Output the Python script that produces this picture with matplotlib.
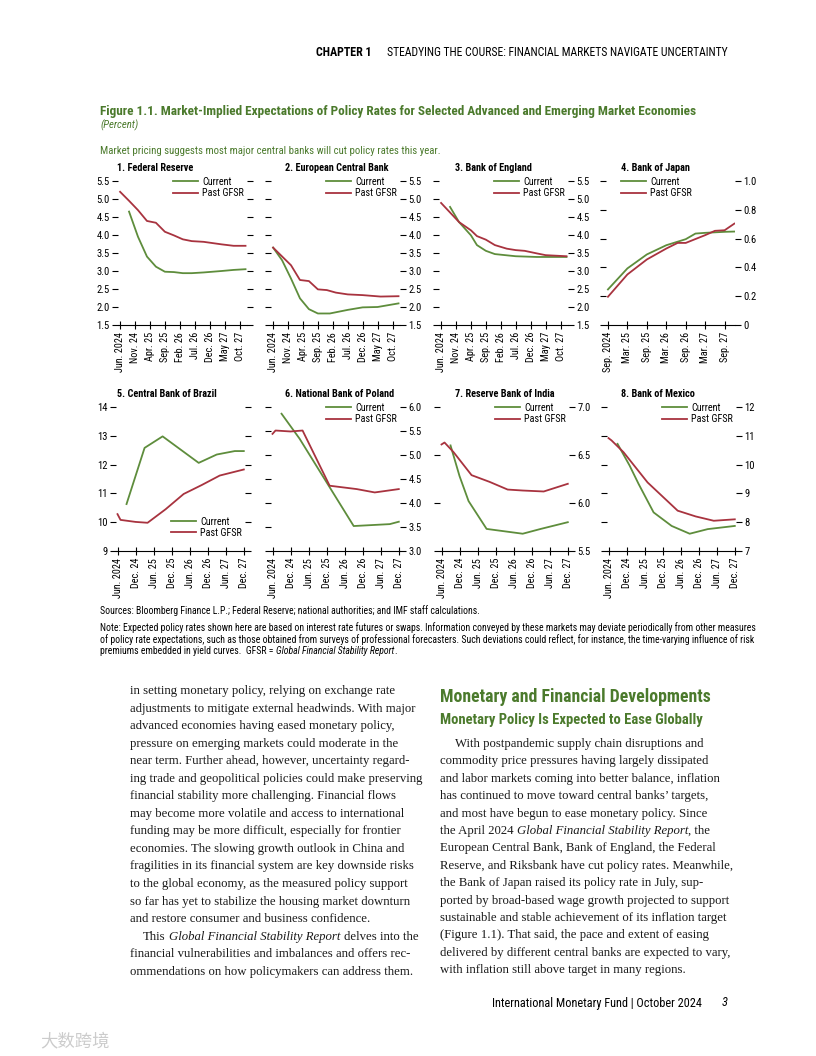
import matplotlib
matplotlib.use('Agg')
import matplotlib.pyplot as plt
from matplotlib import font_manager

W, H = 816, 1056
GREEN = '#4b7a2c'
CUR = '#5e8d3c'
PAST = '#a8333f'
SERIF = ['Liberation Serif', 'DejaVu Serif']

# pick a narrow sans if one is installed
fonts = [(f.name, f.stretch) for f in font_manager.fontManager.ttflist]
SANS, STRETCH = 'Liberation Sans', 'normal'
for name, st in [('Liberation Sans Narrow', None), ('Roboto Condensed', None), ('Open Sans Condensed', None),
                 ('DejaVu Sans', 'condensed'), ('Open Sans', 'condensed'), ('Roboto', 'condensed')]:
    if any(n == name and (st is None or s == st) for n, s in fonts):
        SANS, STRETCH = name, (st or 'normal')
        break
plt.rcParams['font.family'] = [SANS, 'DejaVu Sans']
plt.rcParams['font.stretch'] = STRETCH

# ---- data (months after first tick) ----
ticks_a = ['Jun. 2024', 'Nov. 24', 'Apr. 25', 'Sep. 25', 'Feb. 26', 'Jul. 26', 'Dec. 26', 'May 27', 'Oct. 27']
ticks_jp = ['Sep. 2024', 'Mar. 25', 'Sep. 25', 'Mar. 26', 'Sep. 26', 'Mar. 27', 'Sep. 27']
ticks_b = ['Jun. 2024', 'Dec. 24', 'Jun. 25', 'Dec. 25', 'Jun. 26', 'Dec. 26', 'Jun. 27', 'Dec. 27']

fed_cur_x = [3, 6, 9, 12, 15, 18, 21, 24, 28, 34, 38, 42]
fed_cur = [4.65, 3.95, 3.40, 3.12, 2.98, 2.97, 2.94, 2.94, 2.96, 3.00, 3.03, 3.05]
fed_past_x = [0, 3, 6, 9, 12, 15, 18, 21, 24, 28, 34, 38, 42]
fed_past = [5.20, 4.95, 4.69, 4.39, 4.34, 4.09, 3.99, 3.88, 3.83, 3.81, 3.74, 3.70, 3.70]

ecb_cur_x = [0, 3, 6, 9, 12, 15, 19, 25, 30, 35, 42]
ecb_cur = [3.65, 3.30, 2.79, 2.24, 1.94, 1.82, 1.82, 1.92, 1.99, 2.00, 2.10]
ecb_past_x = [0, 6, 9, 12, 15, 18, 21, 25, 30, 36, 42]
ecb_past = [3.65, 3.16, 2.75, 2.72, 2.49, 2.47, 2.40, 2.35, 2.33, 2.29, 2.30]

boe_cur_x = [3, 6, 10, 12, 15, 18, 25, 32, 42]
boe_cur = [4.78, 4.36, 3.99, 3.72, 3.56, 3.47, 3.41, 3.39, 3.39]
boe_past_x = [0, 6, 10, 12, 15, 18, 22, 25, 28, 32, 35, 42]
boe_past = [4.89, 4.36, 4.13, 3.97, 3.87, 3.72, 3.62, 3.58, 3.56, 3.49, 3.44, 3.41]

boj_cur_x = [0, 6, 12, 18, 24, 27, 30, 36, 39]
boj_cur = [0.247, 0.393, 0.49, 0.554, 0.596, 0.635, 0.64, 0.647, 0.649]
boj_past_x = [0, 6, 12, 18, 21.5, 24, 30, 33, 36, 39]
boj_past = [0.196, 0.351, 0.455, 0.531, 0.57, 0.57, 0.624, 0.654, 0.658, 0.704]

bra_cur_x = [3, 9, 15, 21, 27, 33, 39, 42]
bra_cur = [10.63, 12.58, 12.98, 12.52, 12.06, 12.35, 12.47, 12.47]
bra_past_x = [0, 1, 6, 10, 16, 22, 28, 34, 42]
bra_past = [10.28, 10.08, 10.01, 9.98, 10.45, 10.98, 11.29, 11.62, 11.83]

pol_cur_x = [3, 9, 27, 33, 39, 42]
pol_cur = [5.86, 5.34, 3.52, 3.54, 3.56, 3.61]
pol_past_x = [0, 1, 6, 10, 19, 28, 34, 42]
pol_past = [5.44, 5.51, 5.49, 5.51, 4.36, 4.29, 4.22, 4.29]

ind_cur_x = [3, 6, 9, 15, 27, 33, 42]
ind_cur = [6.60, 6.28, 6.02, 5.73, 5.68, 5.73, 5.80]
ind_past_x = [0, 1, 4, 10, 16, 22, 27, 34, 42]
ind_past = [6.61, 6.63, 6.53, 6.29, 6.22, 6.14, 6.13, 6.12, 6.20]

mex_cur_x = [3, 7, 10, 15, 21, 27, 33, 42]
mex_cur = [10.72, 9.97, 9.33, 8.34, 7.87, 7.60, 7.76, 7.87]
mex_past_x = [0, 1, 5, 13, 23, 29, 35, 42]
mex_past = [10.92, 10.84, 10.43, 9.38, 8.40, 8.20, 8.05, 8.10]

panels = [
    ('1. Federal Reserve', fed_cur_x, fed_cur, fed_past_x, fed_past, ticks_a, 5, (1.5, 5.5, 0.5), '%.1f', 'ur', (-0.7, 42.5)),
    ('2. European Central Bank', ecb_cur_x, ecb_cur, ecb_past_x, ecb_past, ticks_a, 5, (1.5, 5.5, 0.5), '%.1f', 'ur', (-0.7, 42.5)),
    ('3. Bank of England', boe_cur_x, boe_cur, boe_past_x, boe_past, ticks_a, 5, (1.5, 5.5, 0.5), '%.1f', 'ur', (-0.7, 42.5)),
    ('4. Bank of Japan', boj_cur_x, boj_cur, boj_past_x, boj_past, ticks_jp, 6, (0, 1.0, 0.2), 'jp', 'ul', (-0.6, 39.2)),
    ('5. Central Bank of Brazil', bra_cur_x, bra_cur, bra_past_x, bra_past, ticks_b, 6, (9, 14, 1), '%d', 'lr', (-0.5, 42.4)),
    ('6. National Bank of Poland', pol_cur_x, pol_cur, pol_past_x, pol_past, ticks_b, 6, (3.0, 6.0, 0.5), '%.1f', 'ur', (-0.5, 42.4)),
    ('7. Reserve Bank of India', ind_cur_x, ind_cur, ind_past_x, ind_past, ticks_b, 6, (5.5, 7.0, 0.5), '%.1f', 'ur', (-0.5, 42.4)),
    ('8. Bank of Mexico', mex_cur_x, mex_cur, mex_past_x, mex_past, ticks_b, 6, (7, 12, 1), '%d', 'ur', (-0.5, 42.4)),
]

fig = plt.figure(figsize=(W / 100, H / 100), dpi=100)
rend = fig.canvas.get_renderer()


def ftxt(x, y, s, **kw):
    kw.setdefault('va', 'center')
    return fig.text(x / W, 1 - y / H, s, **kw)


def width(s, **kw):
    t = fig.text(0, 0, s, **kw)
    w = t.get_window_extent(rend).width
    t.remove()
    return w


def fit(s, target, cap=None, **kw):
    # font size that makes s about target px wide
    size = 10 * target / width(s, fontsize=10, **kw)
    return min(size, cap) if cap else size


def rich(x, y, parts, **kw):
    # parts: list of (text, style); a leading/trailing space adds a gap
    sp = width('x x', **kw) - width('xx', **kw)
    for s, st in parts:
        if s.startswith(' '):
            x += sp
        t = ftxt(x, y, s.strip(), style=st, **kw)
        x += t.get_window_extent(rend).width
        if s.endswith(' '):
            x += sp


fs_title = fit('Figure 1.1. Market-Implied Expectations of Policy Rates for Selected Advanced and Emerging Market Economies',
               600, weight='bold')
fs_sub = fit('Market pricing suggests most major central banks will cut policy rates this year.', 338)
fs_ptitle = fit('2. European Central Bank', 104, weight='bold')
fs_leg = fit('Past GFSR', 42)
fs_xt = fit('Jun. 2024', 40)
fs_note = fit('Note: Expected policy rates shown here are based on interest rate futures or swaps. Information conveyed by these '
              'markets may deviate periodically from other measures', 648)

lefts1 = [118, 271, 439, 606]
lefts2 = [116, 271, 440, 607]
tops = [181, 407]
aw, ah = 129, 144

for i, p in enumerate(panels):
    title, cx, cy, px_, py, tl, step, yr, fmt, lpos, xl = p
    row, col = divmod(i, 4)
    l = (lefts1 if row == 0 else lefts2)[col]
    t = tops[row]
    ax = fig.add_axes([l / W, 1 - (t + ah) / H, aw / W, ah / H])
    ax.plot(cx, cy, color=CUR, lw=1.3, label='Current')
    ax.plot(px_, py, color=PAST, lw=1.3, label='Past GFSR')
    ax.set_xlim(*xl)
    ax.set_ylim(yr[0], yr[1])
    ax.set_xticks([k * step for k in range(len(tl))])
    ax.set_xticklabels(tl, rotation=90, fontsize=fs_xt)
    n = int(round((yr[1] - yr[0]) / yr[2])) + 1
    yt = [yr[0] + k * yr[2] for k in range(n)]
    ax.set_yticks(yt)
    if fmt == 'jp':
        ax.set_yticklabels(['0' if v == 0 else '%.1f' % v for v in yt])
    else:
        ax.set_yticklabels([fmt % v for v in yt])
    for s in ['top', 'left', 'right']:
        ax.spines[s].set_visible(False)
    ax.spines['bottom'].set_linewidth(0.8)
    lab_left = col == 0
    ax.tick_params(axis='y', direction='out', length=4, width=0.8, left=True, right=True,
                   labelleft=lab_left, labelright=not lab_left, labelsize=fs_leg * 1.05, pad=2)
    ax.tick_params(axis='x', direction='inout', length=6, width=0.8, labelsize=fs_xt, pad=2)
    ax.patch.set_alpha(0)
    if lpos == 'ur':
        loc, anc = 'upper left', (0.43, 1.03)
    elif lpos == 'ul':
        loc, anc = 'upper left', (0.12, 1.03)
    else:
        loc, anc = 'lower left', (0.43, 0.09)
    ax.legend(loc=loc, bbox_to_anchor=anc, frameon=False, fontsize=fs_leg, handlelength=2.4,
              handletextpad=0.4, labelspacing=0.15, borderpad=0, borderaxespad=0)
    tx = [117, 285, 455, 621][col]
    ftxt(tx, t - 13, title, fontsize=fs_ptitle, weight='bold')

# ---- page text ----
ftxt(728, 52, 'STEADYING THE COURSE: FINANCIAL MARKETS NAVIGATE UNCERTAINTY', ha='right',
     fontsize=fit('STEADYING THE COURSE: FINANCIAL MARKETS NAVIGATE UNCERTAINTY', 342))
ftxt(316, 52, 'CHAPTER 1', fontsize=fit('CHAPTER 1', 56, weight='bold'), weight='bold')

ftxt(100, 111, 'Figure 1.1. Market-Implied Expectations of Policy Rates for Selected Advanced and Emerging Market Economies',
     fontsize=fs_title, weight='bold', color=GREEN)
ftxt(100, 125, '(Percent)', fontsize=fs_sub, style='italic', color=GREEN)
ftxt(100, 151, 'Market pricing suggests most major central banks will cut policy rates this year.', fontsize=fs_sub, color=GREEN)

ftxt(100, 611, 'Sources: Bloomberg Finance L.P.; Federal Reserve; national authorities; and IMF staff calculations.', fontsize=fs_note)
ftxt(100, 628, 'Note: Expected policy rates shown here are based on interest rate futures or swaps. Information conveyed by these markets '
     'may deviate periodically from other measures', fontsize=fs_note)
ftxt(100, 640, 'of policy rate expectations, such as those obtained from surveys of professional forecasters. Such deviations could '
     'reflect, for instance, the time-varying influence of risk', fontsize=fs_note)
rich(100, 651, [('premiums embedded in yield curves.  GFSR = ', 'normal'), ('Global Financial Stability Report', 'italic'),
                ('.', 'normal')], fontsize=fs_note)

left_lines = [
    'in setting monetary policy, relying on exchange rate',
    'adjustments to mitigate external headwinds. With major',
    'advanced economies having eased monetary policy,',
    'pressure on emerging markets could moderate in the',
    'near term. Further ahead, however, uncertainty regard-',
    'ing trade and geopolitical policies could make preserving',
    'financial stability more challenging. Financial flows',
    'may become more volatile and access to international',
    'funding may be more difficult, especially for frontier',
    'economies. The slowing growth outlook in China and',
    'fragilities in its financial system are key downside risks',
    'to the global economy, as the measured policy support',
    'so far has yet to stabilize the housing market downturn',
    'and restore consumer and business confidence.',
    None,
    'financial vulnerabilities and imbalances and offers rec-',
    'ommendations on how policymakers can address them.',
]
right_lines = [
    None,
    'commodity price pressures having largely dissipated',
    'and labor markets coming into better balance, inflation',
    'has continued to move toward central banks\u2019 targets,',
    'and most have begun to ease monetary policy. Since',
    None,
    'European Central Bank, Bank of England, the Federal',
    'Reserve, and Riksbank have cut policy rates. Meanwhile,',
    'the Bank of Japan raised its policy rate in July, sup-',
    'ported by broad-based wage growth projected to support',
    'sustainable and stable achievement of its inflation target',
    '(Figure 1.1). That said, the pace and extent of easing',
    'delivered by different central banks are expected to vary,',
    'with inflation still above target in many regions.',
]
BODY = dict(fontsize=9.15, family=SERIF, color='#1a1a1a')
for k, s in enumerate(left_lines):
    y = 691 + k * 17.55
    if s is None:
        rich(143, y, [('This ', 'normal'), ('Global Financial Stability Report', 'italic'), (' delves into the', 'normal')], **BODY)
    else:
        ftxt(130, y, s, **BODY)
for k, s in enumerate(right_lines):
    y = 744 + k * 17.4
    if k == 0:
        ftxt(455, y, 'With postpandemic supply chain disruptions and', **BODY)
    elif s is None:
        rich(440, y, [('the April 2024 ', 'normal'), ('Global Financial Stability Report', 'italic'), (', the', 'normal')], **BODY)
    else:
        ftxt(440, y, s, **BODY)

ftxt(440, 697, 'Monetary and Financial Developments', weight='bold', color=GREEN,
     fontsize=fit('Monetary and Financial Developments', 270, weight='bold'))
ftxt(440, 720, 'Monetary Policy Is Expected to Ease Globally', weight='bold', color=GREEN,
     fontsize=fit('Monetary Policy Is Expected to Ease Globally', 263, weight='bold'))

ftxt(702, 1003, 'International Monetary Fund | October 2024', ha='right',
     fontsize=fit('International Monetary Fund | October 2024', 209))
ftxt(728, 1003, '3', ha='right', fontsize=9, style='italic')
ftxt(40, 1041, '\u5927\u6570\u8de8\u5883', fontsize=12.5, color='#cccccc', family=['Noto Sans CJK SC', 'DejaVu Sans'])

fig.savefig('out.png', dpi=100)
